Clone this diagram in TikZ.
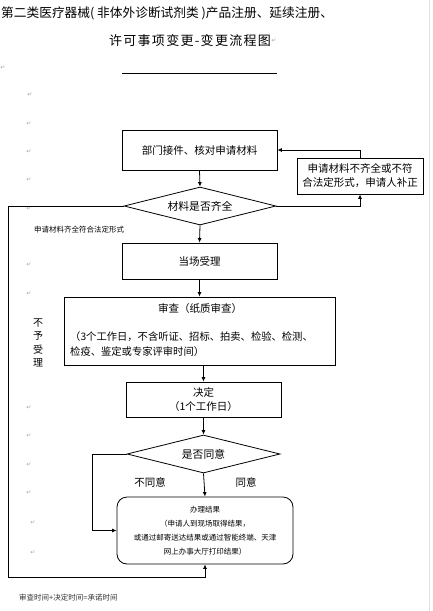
\documentclass[tikz,border=0pt]{standalone}
\usepackage{fontspec}
\newfontfamily\cjk{Noto Sans CJK SC}
\newfontfamily\cjkwide[LetterSpace=10]{Noto Sans CJK SC}
\newfontfamily\dv{DejaVu Sans}
\usetikzlibrary{shapes.geometric,arrows.meta,calc}
\tikzset{
  boxs/.style={draw, line width=0.8pt, inner sep=0pt, font=\cjk\fontsize{10.5}{14}\selectfont, align=center},
  dia/.style={draw, line width=0.8pt, diamond, inner sep=0pt, aspect=4, font=\cjk\fontsize{10.8}{14}\selectfont},
  conn/.style={line width=0.8pt},
  arr/.style={line width=0.8pt, -{Latex[length=4.5pt,width=4pt]}},
  pmark/.style={font=\dv\fontsize{6}{6}\selectfont, text=gray!70, inner sep=0pt},
  small/.style={font=\cjk\fontsize{7.5}{14}\selectfont, inner sep=0pt, align=center},
  lbl/.style={font=\cjk\fontsize{10.5}{13}\selectfont, inner sep=0pt}
}
\begin{document}
\begin{tikzpicture}[x=1pt,y=-1pt]
\useasboundingbox (0,0) rectangle (432,611);
\fill[white] (0,0) rectangle (432,611);
\draw[gray!25, line width=0.6pt] (429,0) -- (429,611);

% title
\node[anchor=west, inner sep=0pt, font=\cjk\fontsize{12.7}{14}\selectfont] (t1) at (1,13) {第二类医疗器械( 非体外诊断试剂类 )产品注册、延续注册、};
\node[inner sep=0pt, font=\cjkwide\fontsize{13}{14}\selectfont] (t2) at (190,41) {许可事项变更-变更流程图};
\node[pmark, anchor=west] (pm0) at (t2.east) {↵};
\coordinate (ul1) at (122,73);
\coordinate (ul2) at (277,73);
\draw[line width=0.8pt] (ul1) -- (ul2);

% paragraph marks
\foreach \px/\py [count=\i] in {3/68,30/95,29/124,29/152,29/180,29/209,29/265,29/294,29/408,29/436,29/465,29/493,33/523,33/553}
  \node[pmark] (pm\i) at (\px,\py) {↵};

% nodes
\node[boxs, minimum width=155pt, minimum height=40pt] (b1) at (199.5,150) {部门接件、核对申请材料};
\node[dia, minimum width=152pt, minimum height=38pt] (d1) at (200,206) {材料是否齐全};
\node[boxs, minimum width=126pt, minimum height=36pt] (rb) at (360,176) {申请材料不齐全或不符\\合法定形式，申请人补正};
\node[boxs, minimum width=155pt, minimum height=36pt] (b2) at (199.5,261) {当场受理};
\node[boxs, minimum width=271pt, minimum height=68pt] (rv) at (199.5,331) {};
\node[lbl] (rvt) at (200,309) {审查（纸质审查）};
\node[lbl, anchor=west, font=\cjk\fontsize{10.3}{15}\selectfont, align=left] (rvb) at (70,344.5) {（3个工作日，不含听证、招标、拍卖、检验、检测、\\检疫、鉴定或专家评审时间）};
\node[boxs, minimum width=155pt, minimum height=35pt] (dc) at (203.5,399.5) {决定\\（1个工作日）};
\node[dia, minimum width=153pt, minimum height=38pt] (d2) at (203.5,454) {是否同意};
\node[boxs, rounded corners=10pt, minimum width=176pt, minimum height=67pt, font=\cjk\fontsize{7.5}{14}\selectfont] (rs) at (205,530.5) {办理结果\\（申请人到现场取得结果，\\或通过邮寄送达结果或通过智能终端、天津\\网上办事大厅打印结果）};

% labels
\node[small, anchor=west, font=\cjk\fontsize{7.5}{9}\selectfont] (lq) at (34,230) {申请材料齐全符合法定形式};
\node[lbl, font=\cjk\fontsize{10}{13.5}\selectfont, align=center] (bys) at (38,343) {不\\予\\受\\理};
\node[lbl] (bty) at (150,482) {不同意};
\node[lbl] (ty) at (246,482) {同意};
\node[small, anchor=west, font=\cjk\fontsize{7.5}{9}\selectfont, text=black!80] (ft) at (19,598) {审查时间+决定时间=承诺时间};

% connectors
\draw[arr] (b1.south) -- (d1.north);
\draw[arr] (d1.east) -| (rb.south);
\draw[arr] (rb.north) |- (b1.east);
\draw[arr] (d1.south) -- (b2.north);
\draw[arr] (b2.south) -- (rv.north);
\draw[arr] (dc.north |- rv.south) -- (dc.north);
\draw[arr] (dc.south) -- (d2.north);
\draw[arr] (d2.south) -- (rs.north);
\draw[arr] (d2.west) -- ++(-34,0) |- (rs.west);
\coordinate (lc) at (8,577);
\draw[arr] (d1.west) -| (lc) -| (rs.south);
\end{tikzpicture}
\end{document}
